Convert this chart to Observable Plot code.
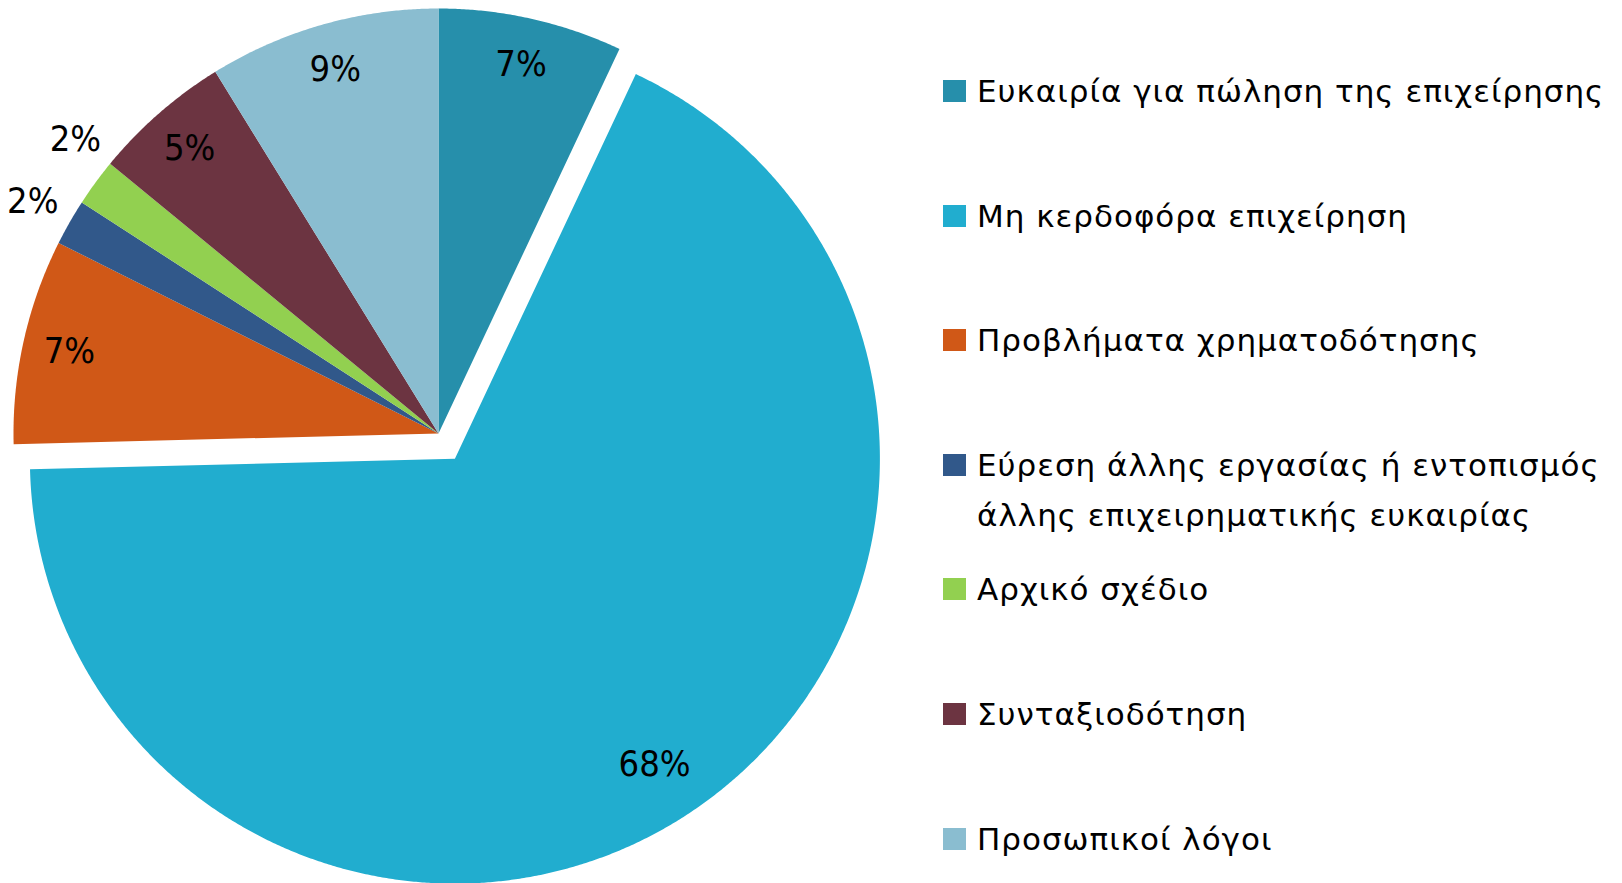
<!DOCTYPE html>
<html>
<head>
<meta charset="utf-8">
<script src="https://cdn.jsdelivr.net/npm/d3@7"></script>
<script src="https://cdn.jsdelivr.net/npm/@observablehq/plot@0.6"></script>
<style>
  html, body { margin: 0; padding: 0; background: #fff; }
  #wrap { position: relative; width: 1622px; height: 883px; overflow: hidden; }
  #chart { position: absolute; left: 0; top: 0; }
  #legend { position: absolute; left: 943px; top: 66px; font-family: "DejaVu Sans", sans-serif; font-size: 31px; letter-spacing: 1px; color: #000; }
  .item { display: flex; align-items: flex-start; height: 124.6px; }
  .sw { width: 23px; height: 22px; margin-top: 14px; margin-right: 11px; flex: none; }
  .lab { line-height: 50px; white-space: pre; }
</style>
</head>
<body>
<div id="wrap"><div id="chart"></div><div id="legend"></div></div>
<script>
// ---- data ----
const categories = [
  "Ευκαιρία για πώληση της επιχείρησης",
  "Μη κερδοφόρα επιχείρηση",
  "Προβλήματα χρηματοδότησης",
  "Εύρεση άλλης εργασίας ή εντοπισμός άλλης επιχειρηματικής ευκαιρίας",
  "Αρχικό σχέδιο",
  "Συνταξιοδότηση",
  "Προσωπικοί λόγοι"
];
const legendLabels = [
  "Ευκαιρία για πώληση της επιχείρησης",
  "Μη κερδοφόρα επιχείρηση",
  "Προβλήματα χρηματοδότησης",
  "Εύρεση άλλης εργασίας ή εντοπισμός\nάλλης επιχειρηματικής ευκαιρίας",
  "Αρχικό σχέδιο",
  "Συνταξιοδότηση",
  "Προσωπικοί λόγοι"
];
const values = [7.0, 67.6, 7.8, 1.75, 1.8, 5.25, 8.8];
const percentLabels = ["7%", "68%", "7%", "2%", "2%", "5%", "9%"];
const colors = ["#268FAB", "#21ADCF", "#D05817", "#31588A", "#92D050", "#6C3441", "#8ABDD0"];
const explodedCategories = ["Μη κερδοφόρα επιχείρηση"];

// ---- geometry (unit circle data space) ----
const W = 930, H = 883, R = 425, CX = 438, CY = 433;
const explode = 30 / R;

const arcs = d3.pie().sort(null).value(d => d.value).startAngle(0).endAngle(2 * Math.PI)(
  categories.map((c, i) => ({category: c, value: values[i], label: percentLabels[i]}))
);

const polyPts = [];
const labelPts = [];
let prevOutsideY = null;
const minGap = 62 / R;
arcs.forEach(a => {
  const c = a.data.category;
  const mid = (a.startAngle + a.endAngle) / 2;
  const off = explodedCategories.includes(c) ? explode : 0;
  const ox = off * Math.sin(mid), oy = off * Math.cos(mid);
  polyPts.push({category: c, x: ox, y: oy});
  const n = Math.max(4, Math.ceil((a.endAngle - a.startAngle) / 0.005));
  for (let k = 0; k <= n; k++) {
    const t = a.startAngle + (a.endAngle - a.startAngle) * k / n;
    polyPts.push({category: c, x: ox + Math.sin(t), y: oy + Math.cos(t)});
  }
  polyPts.push({category: c, x: ox, y: oy});
  const small = a.data.value < 3;
  let ang = mid;
  let lr = small ? 1.1 : (off ? 0.86 : 0.89);
  if (small) {
    // simple collision avoidance between outside labels (move along the circle)
    if (prevOutsideY !== null) {
      while (lr * Math.cos(ang) - prevOutsideY < minGap) ang += 0.002;
    }
    prevOutsideY = lr * Math.cos(ang);
  }
  labelPts.push({category: c, label: a.data.label, x: ox + lr * Math.sin(ang), y: oy + lr * Math.cos(ang)});
});

const chart = Plot.plot({
  width: W,
  height: H,
  margin: 0,
  x: {domain: [-CX / R, (W - CX) / R], range: [0, W], axis: null},
  y: {domain: [-(H - CY) / R, CY / R], range: [H, 0], axis: null},
  color: {domain: categories, range: colors},
  style: {background: "transparent"},
  marks: [
    Plot.line(polyPts, {x: "x", y: "y", z: "category", fill: "category", stroke: "none", curve: "linear"}),
    Plot.text(labelPts, {
      x: "x", y: "y", text: "label",
      fill: "#000", fontSize: 36,
      fontFamily: "'DejaVu Sans Condensed', 'DejaVu Sans', sans-serif",
      textAnchor: "middle", lineAnchor: "middle"
    })
  ]
});
document.getElementById("chart").appendChild(chart);

const legend = document.getElementById("legend");
categories.forEach((c, i) => {
  const item = document.createElement("div");
  item.className = "item";
  const sw = document.createElement("div");
  sw.className = "sw";
  sw.style.background = colors[i];
  const lab = document.createElement("div");
  lab.className = "lab";
  lab.textContent = legendLabels[i];
  item.appendChild(sw);
  item.appendChild(lab);
  legend.appendChild(item);
});
</script>
</body>
</html>
